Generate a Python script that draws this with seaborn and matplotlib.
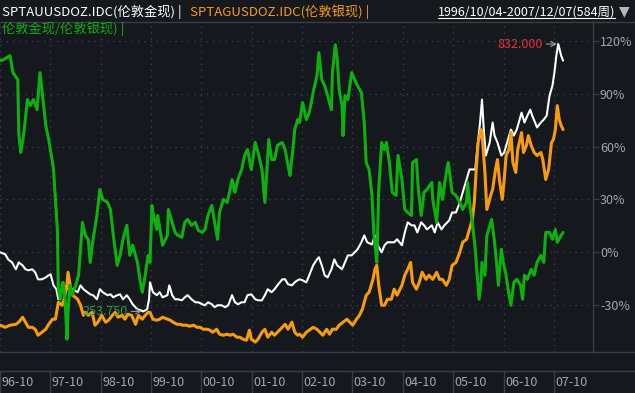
import numpy as np
import pandas as pd
import matplotlib
matplotlib.use("Agg")
import matplotlib.pyplot as plt
import matplotlib.transforms as mtransforms
from matplotlib.lines import Line2D
import seaborn as sns

# Weekly data 1996/10/04 - 2007/12/07, shown as % change on the chart's scale
START = pd.Timestamp("1996-10-04")

gold_weeks = [0, 5, 8, 12, 16, 19, 23, 26, 29, 33, 36, 39, 43, 47, 50, 52, 55, 58, 60, 63,
              65, 69, 72, 75, 80, 83, 86, 90, 93, 96, 100, 103, 106, 111, 114, 117, 121, 124, 127, 131,
              134, 137, 142, 145, 148, 152, 154, 155, 158, 162, 165, 168, 173, 175, 178, 181, 184, 188, 191, 194,
              198, 202, 205, 209, 212, 215, 219, 222, 225, 229, 233, 236, 240, 243, 246, 250, 253, 256, 260, 264,
              267, 271, 274, 277, 281, 284, 287, 292, 295, 298, 302, 305, 308, 310, 313, 317, 320, 324, 328, 330,
              333, 336, 339, 343, 346, 349, 354, 357, 360, 364, 367, 370, 374, 377, 380, 385, 388, 391, 395, 398,
              401, 405, 408, 411, 416, 419, 422, 426, 429, 432, 436, 439, 442, 447, 450, 453, 457, 460, 463, 465,
              468, 472, 476, 479, 483, 486, 489, 492, 494, 497, 499, 501, 503, 507, 510, 512, 515, 519, 522, 525,
              529, 532, 535, 540, 543, 546, 549, 551, 554, 556, 560, 563, 566, 569, 572, 574, 576, 578, 581, 583]
gold_pct = [0, -1.1, -4.0, -5.7, -9.6, -5.7, -7.4, -9.6, -10.2, -9.6, -11.3, -15.3, -15.3, -14.2, -13.0, -12.5, -18.7, -20.9, -26.6, -22.6,
            -20.9, -18.7, -22.6, -20.9, -22.6, -18.7, -20.9, -22.6, -23.8, -24.3, -26.6, -20.9, -22.6, -24.3, -23.8, -25.5, -24.3, -23.8, -26.6, -24.3,
            -26.6, -29.4, -32.3, -32.8, -33.5, -32.3, -26.6, -17.0, -22.6, -24.3, -22.6, -25.5, -24.3, -18.7, -24.3, -26.6, -26.6, -27.2, -25.5, -24.3,
            -26.6, -28.3, -28.3, -29.4, -30.0, -28.3, -29.4, -31.1, -30.0, -30.0, -31.1, -30.0, -24.3, -28.3, -29.4, -28.3, -28.3, -24.3, -23.8, -26.6,
            -27.2, -27.2, -24.3, -20.9, -22.6, -20.9, -18.7, -15.3, -15.3, -18.1, -18.7, -17.0, -15.8, -15.3, -15.8, -17.0, -13.0, -7.4, -4.0, -2.8,
            -7.4, -13.0, -14.2, -9.6, -4.0, -7.4, -9.6, -5.7, -1.7, -1.7, 0, 1.7, 5.7, 9.6, 5.7, 4.5, 9.6, 4.0, 0, 4.0,
            5.7, 5.7, 5.7, 7.4, 4.0, 11.3, 17.0, 15.3, 15.3, 11.3, 17.0, 15.3, 13.0, 15.3, 11.3, 17.0, 13.0, 15.3, 17.0, 18.1,
            22.6, 22.6, 28.3, 34.0, 41.3, 47.0, 47.0, 47.0, 58.3, 73.6, 86.6, 67.9, 54.9, 62.3, 73.6, 66.2, 62.3, 54.9, 56.6, 62.3,
            69.6, 66.2, 69.6, 79.2, 73.6, 77.5, 80.9, 77.5, 73.6, 70.8, 73.6, 75.3, 77.5, 88.9, 94.5, 101.9, 111.5, 118.1, 111.5, 108.7]

silver_weeks = [0, 5, 10, 16, 19, 23, 26, 29, 33, 36, 39, 43, 47, 50, 54, 57, 60, 64, 66, 69,
                70, 73, 75, 80, 83, 86, 88, 91, 95, 98, 101, 105, 109, 112, 116, 119, 122, 126, 129, 132,
                136, 140, 143, 147, 150, 153, 155, 158, 162, 165, 168, 173, 176, 179, 183, 186, 189, 193, 196, 200,
                204, 207, 210, 214, 217, 220, 224, 227, 231, 235, 238, 241, 245, 248, 251, 255, 258, 260, 264, 267,
                271, 274, 277, 281, 284, 287, 292, 295, 298, 302, 305, 308, 310, 313, 317, 320, 324, 328, 331, 334,
                338, 341, 344, 348, 351, 355, 359, 362, 365, 369, 372, 375, 379, 382, 386, 388, 390, 392, 395, 398,
                401, 405, 408, 411, 416, 419, 422, 425, 427, 431, 434, 437, 441, 444, 448, 452, 455, 458, 462, 465,
                468, 472, 476, 479, 483, 486, 489, 491, 493, 495, 498, 499, 502, 504, 508, 510, 513, 515, 517, 520,
                522, 524, 527, 529, 531, 534, 536, 540, 542, 545, 547, 550, 553, 556, 560, 562, 565, 568, 571, 573,
                575, 577, 579, 581, 583]
silver_pct = [-41.3, -42.5, -41.3, -40.8, -39.6, -36.8, -39.6, -42.5, -42.5, -43.6, -47.0, -45.3, -43.6, -40.8, -37.9, -37.9, -28.3, -30.0, -26.6, -18.7,
              -11.3, -20.9, -24.3, -26.6, -30.0, -35.7, -34.0, -35.7, -34.0, -41.3, -39.6, -35.7, -39.6, -38.5, -35.7, -34.0, -36.8, -35.7, -37.9, -35.1,
              -35.7, -40.8, -35.7, -37.9, -35.7, -34.0, -34.0, -37.9, -38.5, -37.9, -36.8, -37.9, -38.5, -39.6, -40.8, -40.8, -41.3, -41.3, -41.9, -41.3,
              -42.5, -42.5, -43.6, -43.6, -44.1, -45.3, -43.6, -46.4, -47.0, -46.4, -47.0, -46.4, -48.1, -48.1, -49.2, -49.8, -44.1, -49.2, -50.9, -49.2,
              -45.3, -43.6, -48.1, -45.3, -47.0, -45.3, -42.5, -40.8, -43.6, -39.6, -45.3, -47.0, -46.4, -48.1, -45.3, -44.1, -42.5, -43.6, -45.3, -47.0,
              -43.6, -46.4, -43.6, -43.6, -41.3, -39.6, -37.9, -39.6, -41.3, -37.9, -35.7, -32.3, -24.3, -22.6, -15.3, -9.6, -7.4, -18.7, -30.0, -30.0,
              -26.6, -26.6, -20.9, -24.3, -18.7, -13.0, -9.6, -5.7, -17.0, -20.9, -17.0, -11.3, -15.3, -13.0, -15.3, -11.3, -15.3, -15.3, -18.7, -15.3,
              -7.4, -5.7, 0, 5.7, 7.4, 13.0, 18.7, 28.3, 47.0, 62.3, 69.6, 67.9, 45.3, 24.3, 32.3, 35.7, 47.0, 52.6, 41.3, 30.0,
              41.3, 54.9, 58.3, 67.9, 50.9, 45.3, 58.3, 67.9, 56.6, 60.6, 66.2, 60.6, 56.6, 54.9, 56.6, 52.6, 41.3, 47.0, 62.3, 64.0,
              69.6, 83.2, 75.3, 71.9, 69.6]

ratio_weeks = [0, 3, 10, 13, 18, 19, 21, 24, 28, 31, 34, 38, 41, 43, 47, 50, 54, 55, 57, 59,
               60, 62, 64, 65, 67, 69, 70, 72, 74, 78, 81, 85, 88, 91, 93, 96, 100, 103, 106, 111,
               114, 117, 121, 124, 127, 131, 134, 137, 142, 145, 147, 150, 153, 155, 157, 158, 162, 163, 167, 168,
               173, 174, 178, 181, 184, 188, 191, 194, 198, 202, 205, 209, 212, 215, 219, 222, 225, 227, 231, 235,
               238, 240, 243, 246, 250, 253, 256, 260, 264, 267, 271, 274, 276, 278, 281, 284, 287, 292, 295, 298,
               300, 303, 305, 308, 310, 313, 317, 320, 324, 328, 330, 333, 336, 339, 343, 344, 347, 349, 351, 354,
               355, 357, 360, 364, 367, 370, 374, 377, 379, 382, 385, 387, 389, 390, 392, 395, 398, 400, 403, 406,
               410, 412, 416, 419, 422, 426, 427, 431, 433, 436, 439, 442, 447, 448, 452, 455, 458, 462, 464, 465,
               468, 472, 476, 479, 483, 484, 487, 489, 492, 494, 496, 498, 499, 502, 504, 509, 512, 514, 516, 519,
               521, 524, 526, 529, 532, 535, 539, 541, 543, 546, 550, 553, 556, 560, 563, 565, 569, 572, 575, 577,
               581, 583]
ratio_pct = [108.7, 109.2, 111.5, 101.9, 97.9, 67.9, 56.6, 66.2, 86.6, 83.2, 86.6, 80.9, 101.9, 92.3, 71.9, 64.0, 50.9, 47.0, 30.0, 13.0,
             -20.9, -26.6, -18.7, -17.0, -26.6, -49.2, -34.0, -18.7, -24.3, -18.7, -13.0, 17.0, 9.6, 7.4, -5.7, 7.4, 20.9, 35.7, 30.0, 28.3,
             24.3, 9.6, -7.4, -1.7, 7.4, 15.3, -1.7, 4.0, -5.7, -17.0, -22.6, -13.0, -1.7, -5.7, 26.6, 22.6, 13.0, 20.9, 7.4, 4.0,
             9.6, 24.3, 17.0, 11.3, 9.6, 8.5, 17.0, 18.7, 15.3, 17.0, 12.5, 11.3, 13.0, 20.9, 26.6, 17.0, 7.4, 22.6, 30.0, 28.3,
             35.7, 41.3, 34.0, 41.3, 47.0, 54.9, 58.3, 47.0, 62.3, 56.6, 47.0, 28.3, 45.3, 64.0, 52.6, 52.6, 60.6, 62.3, 58.3, 49.2,
             43.6, 58.3, 69.6, 75.3, 73.6, 84.9, 75.3, 79.2, 90.6, 100.2, 113.2, 97.9, 94.5, 88.9, 80.9, 101.9, 117.7, 109.2, 92.3, 83.2,
             66.2, 88.9, 86.6, 101.9, 97.9, 94.5, 90.6, 73.6, 50.9, 47.0, 32.3, 9.6, 0, -5.7, 35.7, 62.3, 58.3, 62.3, 50.9, 34.0,
             32.3, 54.9, 41.3, 24.3, 22.6, 20.9, 50.9, 52.6, 35.7, 20.9, 34.0, 35.7, 39.6, 30.0, 17.0, 39.6, 30.0, 45.3, 50.9, 47.0,
             34.0, 32.3, 28.3, 24.3, 28.3, 39.6, 24.3, 17.0, 1.7, -13.0, -26.6, -17.0, -5.7, -13.0, 9.6, 18.7, 5.7, -5.7, -18.7, 1.7,
             -5.7, -13.0, -20.9, -30.0, -17.0, -15.3, -18.7, -26.6, -13.0, -15.3, -9.6, -13.0, -5.7, -1.7, -5.7, 11.3, 11.3, 7.4, 13.0, 5.7,
             9.6, 11.3]

gold_high = 832.000
gold_low = 253.750

tick_years = list(range(1996, 2008))
y_ticks = [-30, 0, 30, 60, 90, 120]

BG = "#15181d"
FRAME = "#3a3e44"
GRID = "#40454c"
TXT = "#a3a7ad"
C_GOLD = "#ffffff"
C_SILVER = "#f89c0e"
C_RATIO = "#0db10d"


def to_dates(weeks):
    return START + pd.to_timedelta(np.array(weeks) * 7, unit="D")


sns.set_style("dark")
plt.rcParams["font.family"] = ["Noto Sans CJK SC", "DejaVu Sans"]
plt.rcParams["axes.unicode_minus"] = False

fig = plt.figure(figsize=(6.35, 3.93), dpi=100)
fig.patch.set_facecolor(BG)
ax = fig.add_axes([0, 41 / 393, 593 / 635, 330 / 393])
ax.set_facecolor(BG)

gold = pd.DataFrame({"date": to_dates(gold_weeks), "pct": gold_pct})
silver = pd.DataFrame({"date": to_dates(silver_weeks), "pct": silver_pct})
ratio = pd.DataFrame({"date": to_dates(ratio_weeks), "pct": ratio_pct})

sns.lineplot(data=gold, x="date", y="pct", ax=ax, color=C_GOLD, linewidth=1.5, estimator=None, sort=False)
sns.lineplot(data=silver, x="date", y="pct", ax=ax, color=C_SILVER, linewidth=2.2, estimator=None, sort=False)
sns.lineplot(data=ratio, x="date", y="pct", ax=ax, color=C_RATIO, linewidth=2.2, estimator=None, sort=False)

tick_dates = [pd.Timestamp(f"{y}-10-01") for y in tick_years]
ax.set_xlim(pd.Timestamp("1996-10-02"), START + pd.Timedelta(weeks=614))
ax.set_ylim(-56.5, 130.6)
ax.set_xlabel("")
ax.set_ylabel("")

ax.set_xticks(tick_dates)
ax.tick_params(axis="x", length=0, labelbottom=False)
ax.yaxis.tick_right()
ax.set_yticks(y_ticks)
ax.set_yticklabels([f"{v}%" for v in y_ticks])
ax.tick_params(axis="y", colors=TXT, labelsize=9, length=4, width=0.8, pad=1)
ax.tick_params(axis="y", color=FRAME)
ax.grid(True, color=GRID, linestyle=(0, (1, 4)), linewidth=0.9)

for side in ["top", "left", "bottom"]:
    ax.spines[side].set_visible(False)
ax.spines["right"].set_color(FRAME)
ax.spines["right"].set_linewidth(1)

# frame lines across the figure
for yy in [41 / 393, 22 / 393, 371 / 393]:
    fig.add_artist(Line2D([0, 1], [yy, yy], transform=fig.transFigure, color=FRAME, lw=1))

# x labels in the bottom strip
trans = mtransforms.blended_transform_factory(ax.transData, fig.transFigure)
for d, y in zip(tick_dates, tick_years):
    ax.plot([d, d], [0, 22 / 393], transform=trans, color=FRAME, lw=1, clip_on=False)
    ax.text(d + pd.Timedelta(days=10), 11 / 393, f"{y % 100:02d}-10", transform=trans,
            color=TXT, fontsize=9, ha="left", va="center", clip_on=False)

# max / min annotations of gold
imax = int(np.argmax(gold_pct))
imin = int(np.argmin(gold_pct))
arrow = dict(arrowstyle="->", color="#9a9ea4", lw=0.8, shrinkA=0, shrinkB=1)
ax.annotate(f"{gold_high:.3f}", xy=(gold["date"][imax], gold_pct[imax]), xytext=(-11, 0),
            textcoords="offset points", color="#e8323c", fontsize=9, ha="right", va="center",
            arrowprops=arrow)
ax.annotate(f"{gold_low:.3f}", xy=(gold["date"][imin], gold_pct[imin]), xytext=(-11, 0),
            textcoords="offset points", color="#22a34a", fontsize=9, ha="right", va="center",
            arrowprops=arrow)

# header
fig.text(2 / 635, 1 - 12 / 393, "SPTAUUSDOZ.IDC(伦敦金现) |", color="#ffffff", fontsize=9.5, ha="left", va="center")
fig.text(190 / 635, 1 - 12 / 393, "SPTAGUSDOZ.IDC(伦敦银现) |", color=C_SILVER, fontsize=9.5, ha="left", va="center")
fig.text(2 / 635, 1 - 29 / 393, "伦敦金现/伦敦银现) |", color=C_RATIO, fontsize=9.5, ha="left", va="center")
rng = fig.text(438 / 635, 1 - 12 / 393, "1996/10/04-2007/12/07(584周)", color="#ffffff", fontsize=9.0,
               ha="left", va="center")
fig.text(624 / 635, 1 - 11 / 393, "▼", color="#b4b8bd", fontsize=10, ha="center", va="center",
         family="DejaVu Sans")

fig.canvas.draw()
bb = rng.get_window_extent().transformed(fig.transFigure.inverted())
fig.add_artist(Line2D([bb.x0, bb.x1], [1 - 17.5 / 393] * 2, transform=fig.transFigure, color="#ffffff", lw=0.8))

fig.savefig("out.png", dpi=100, facecolor=BG)
